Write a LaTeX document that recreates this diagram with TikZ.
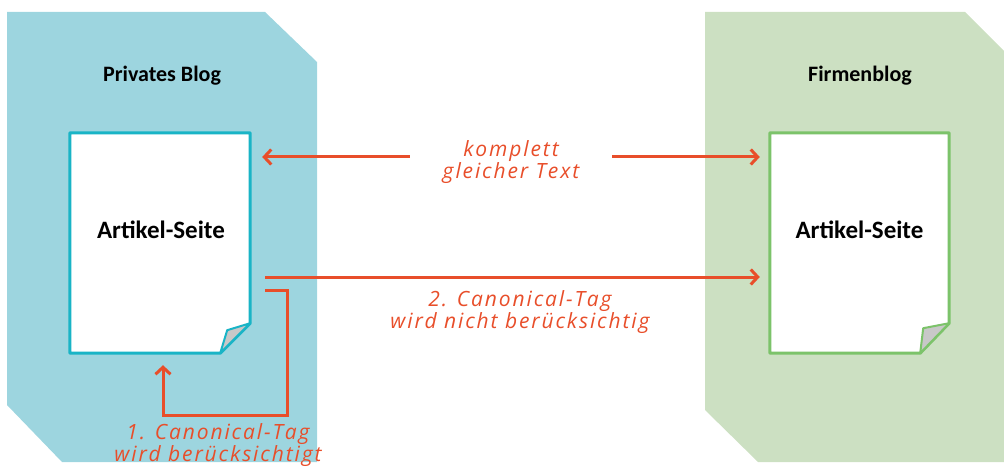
\documentclass[tikz,border=0pt]{standalone}
\usepackage{fontspec}
\setmainfont{Carlito}
\newfontfamily\handfont{Open Sans}[LetterSpace=9]
\usetikzlibrary{arrows.meta,calc}
\definecolor{panelblue}{HTML}{9DD5DF}
\definecolor{edgeblue}{HTML}{19B4C6}
\definecolor{panelgreen}{HTML}{CCE0C2}
\definecolor{edgegreen}{HTML}{7CC36A}
\definecolor{redorange}{HTML}{E84E2A}
\definecolor{foldgray}{HTML}{C8C8C8}
\tikzset{
  docbox/.style={minimum width=180pt,minimum height=220pt,inner sep=0pt},
  headline/.style={font=\bfseries\fontsize{22}{24}\selectfont},
  doctext/.style={font=\bfseries\fontsize{25}{27}\selectfont},
  handnote/.style={font=\handfont\itshape\fontsize{21}{22}\selectfont,text=redorange,align=center},
  arr/.style={draw=redorange,line width=3pt,-{Straight Barb[length=7pt,width=15pt]}}
}
\begin{document}
\begin{tikzpicture}[x=1pt,y=-1pt]
        \useasboundingbox (0,0) rectangle (1004,468);
        \clip (0,0) rectangle (1004,468);
        \fill[panelblue] (7,12) -- (265,12) -- (317,62) -- (317,462) -- (62,462) -- (7,405) -- cycle;
        \fill[panelgreen] (705,12) -- (965,12) -- (1015,62) -- (1015,462) -- (758,462) -- (705,410) -- cycle;
        \node[headline](blogL)at(162,76){Privates Blog};
        \node[headline](blogR)at(860,76){Firmenblog};
        \node[docbox](docL)at(160,243){};
        \node[docbox,minimum width=179pt](docR)at(859.5,243){};
        \filldraw[edgeblue,fill=white,line width=3pt,line join=round](docL.north west)--(docL.north east)--($(docL.south east)+(0,-30)$)--($(docL.south east)+(-30,0)$)--(docL.south west)--cycle;
        \filldraw[edgeblue,fill=foldgray,line width=2pt,line join=round]($(docL.south east)+(0,-30)$)--($(docL.south east)+(-23,-23)$)--($(docL.south east)+(-30,0)$)--cycle;
        \filldraw[edgegreen,fill=white,line width=3pt,line join=round](docR.north west)--(docR.north east)--($(docR.south east)+(0,-30)$)--($(docR.south east)+(-29,0)$)--(docR.south west)--cycle;
        \filldraw[edgegreen,fill=foldgray,line width=2pt,line join=round]($(docR.south east)+(0,-30)$)--($(docR.south east)+(-26,-25)$)--($(docR.south east)+(-29,0)$)--cycle;
        \node[doctext](artL)at($(docL.center)+(1,-13)$){Artikel-Seite};
        \node[doctext](artR)at($(docR.center)+(0,-13)$){Artikel-Seite};
        \node[handnote,inner xsep=33pt](same)at(511,162){komplett\\gleicher Text};
        \node[handnote](ignored)at(520,312){2. Canonical-Tag\\wird nicht berücksichtig};
        \node[handnote](followed)at(218,445){1. Canonical-Tag\\wird berücksichtigt};
        \draw[arr]($(same.west)+(0,-5)$)--($(docL.east |- same.west)+(12,-5)$);
        \draw[arr]($(same.east)+(0,-5)$)--($(docR.west |- same.east)+(-10,-5)$);
        \draw[arr]($(docL.east)+(15,34)$)--($(docR.west)+(-10,34)$);
        \draw[arr,line join=miter]($(docL.east)+(15,47)$)-|($(docL.south)+(127,62)$)-|($(docL.south)+(3,12)$);
    \end{tikzpicture}
\end{document}
